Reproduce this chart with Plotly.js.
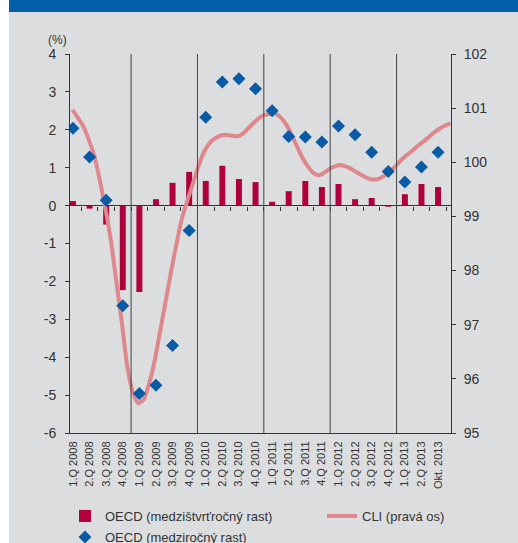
<!DOCTYPE html>
<html>
<head>
<meta charset="utf-8">
<script src="https://cdn.plot.ly/plotly-3.0.1.min.js"></script>
<style>html,body{margin:0;padding:0;background:#fff;}#chart{width:518px;height:543px;}</style>
</head>
<body>
<div id="chart"></div>
<script>
// ---- data ----
var categories = ['1.Q 2008','2.Q 2008','3.Q 2008','4.Q 2008',
  '1.Q 2009','2.Q 2009','3.Q 2009','4.Q 2009',
  '1.Q 2010','2.Q 2010','3.Q 2010','4.Q 2010',
  '1.Q 2011','2.Q 2011','3.Q 2011','4.Q 2011',
  '1.Q 2012','2.Q 2012','3.Q 2012','4.Q 2012',
  '1.Q 2013','2.Q 2013','Okt. 2013'];
// OECD quarter-on-quarter growth (%)
var qoq = [0.12,-0.08,-0.50,-2.23,-2.28,0.17,0.60,0.89,0.65,1.05,0.70,0.62,
           0.10,0.38,0.65,0.49,0.57,0.17,0.20,-0.03,0.30,0.57,0.49];
// OECD year-on-year growth (%)
var yoy = [2.04,1.28,0.14,-2.64,-4.96,-4.74,-3.69,-0.66,2.33,3.26,3.35,3.08,
           2.50,1.82,1.81,1.68,2.10,1.87,1.41,0.90,0.62,1.02,1.41];
// CLI monthly, Jan 2008 - Oct 2013 (right axis)
var cli = [100.97,100.82,100.66,100.41,100.11,99.66,99.15,98.56,97.80,97.05,96.23,95.76,
           95.55,95.62,95.92,96.33,96.88,97.43,97.98,98.50,98.97,99.30,99.62,99.93,
           100.19,100.35,100.44,100.49,100.51,100.49,100.48,100.52,100.62,100.72,100.81,100.87,
           100.89,100.90,100.83,100.70,100.51,100.29,100.08,99.92,99.80,99.76,99.81,99.88,
           99.93,99.95,99.92,99.87,99.81,99.75,99.70,99.68,99.70,99.76,99.84,99.93,
           100.04,100.13,100.21,100.30,100.38,100.46,100.55,100.62,100.68,100.72];
var seriesNames = ['OECD (medzištvrťročný rast)','OECD (medziročný rast)','CLI (pravá os)'];
var leftTicks = [-6,-5,-4,-3,-2,-1,0,1,2,3,4];
var rightTicks = [95,96,97,98,99,100,101,102];

// ---- layout helpers (pixel -> paper) ----
var W = 518, H = 543, mL = 70, mR = 67, mT = 54, mB = 110;
var pw = W - mL - mR, ph = H - mT - mB;
function px(x){ return (x - mL) / pw; }
function py(y){ return (H - mB - y) / ph; }

var monthIdx = cli.map(function(_, i){ return i; });
var xr = [-0.18, categories.length - 0.22];

var traces = [
  {type:'bar', x:categories, y:qoq, name:seriesNames[0], width:0.36,
   marker:{color:'#b0003c'}, xaxis:'x', yaxis:'y', legend:'legend'},
  {type:'scatter', mode:'markers', x:categories, y:yoy, name:seriesNames[1],
   marker:{symbol:'diamond', size:10, color:'#0a5aa5'}, xaxis:'x3', yaxis:'y',
   legend:'legend2'},
  {type:'scatter', mode:'lines', x:monthIdx, y:cli, name:seriesNames[2],
   line:{color:'#de878c', width:4, shape:'spline', smoothing:0.6},
   xaxis:'x2', yaxis:'y2', legend:'legend3'}
];

var shapes = [
  {type:'rect', xref:'paper', yref:'paper', x0:px(-5), x1:px(9), y0:py(H+5), y1:py(-5),
   fillcolor:'#ffffff', line:{width:0}, layer:'above'},
  {type:'rect', xref:'paper', yref:'paper', x0:px(9), x1:px(W+5), y0:py(12), y1:py(-5),
   fillcolor:'#0060aa', line:{width:0}, layer:'above'}
];
for (var k = 4; k < categories.length; k += 4) {
  shapes.push({type:'line', xref:'x', yref:'y', x0:k-0.5, x1:k-0.5, y0:-6, y1:4,
    line:{color:'#444', width:1}, layer:'above'});
}

var fontFam = 'Liberation Sans, Arial, sans-serif';
var legFont = {size:13, color:'#333'};
var layout = {
  width:W, height:H,
  margin:{l:mL, r:mR, t:mT, b:mB, pad:0, autoexpand:false},
  paper_bgcolor:'#dcdddf', plot_bgcolor:'rgba(0,0,0,0)',
  font:{family:fontFam, color:'#333', size:13},
  showlegend:true, barmode:'overlay',
  xaxis:{type:'category', range:xr, ticks:'', tickangle:-90,
    tickfont:{size:11, color:'#333'}, showline:true, linecolor:'#333', linewidth:1,
    showgrid:false, zeroline:false, ticklabelstandoff:3, automargin:false},
  xaxis3:{type:'category', range:xr, overlaying:'x', anchor:'free', position:0.6,
    ticks:'outside', ticklen:4, tickcolor:'#333', tickson:'boundaries',
    showticklabels:false, showline:false, showgrid:false, zeroline:false},
  xaxis2:{type:'linear', range:[-0.456, 69.1], overlaying:'x', anchor:'y2', visible:false},
  yaxis:{range:[-6,4], tickmode:'array', tickvals:leftTicks,
    ticktext:leftTicks.map(function(v){ return String(v); }),
    ticks:'outside', ticklen:4, tickcolor:'#333',
    showline:true, linecolor:'#333', linewidth:1, showgrid:false,
    zeroline:true, zerolinecolor:'#333', zerolinewidth:1,
    tickfont:{size:14, color:'#333'}, ticklabelstandoff:6, automargin:false},
  yaxis2:{range:[95,102], tickmode:'array', tickvals:rightTicks,
    ticktext:rightTicks.map(function(v){ return String(v); }),
    overlaying:'y', side:'right', anchor:'x2',
    ticks:'outside', ticklen:4, tickcolor:'#333', showline:true, linecolor:'#333',
    linewidth:1, showgrid:false, zeroline:false,
    tickfont:{size:14, color:'#333'}, ticklabelstandoff:5, automargin:false},
  legend:{orientation:'h', x:px(65), xanchor:'left', y:py(501), yanchor:'top',
    bgcolor:'rgba(0,0,0,0)', font:legFont},
  legend3:{orientation:'h', x:px(322), xanchor:'left', y:py(501), yanchor:'top',
    bgcolor:'rgba(0,0,0,0)', font:legFont},
  legend2:{orientation:'h', x:px(65), xanchor:'left', y:py(522), yanchor:'top',
    bgcolor:'rgba(0,0,0,0)', font:legFont},
  annotations:[{text:'(%)', xref:'paper', yref:'paper', x:px(57), y:py(40),
    xanchor:'center', yanchor:'middle', showarrow:false, font:{size:12, color:'#333'}}],
  shapes:shapes
};

Plotly.newPlot('chart', traces, layout, {displayModeBar:false, staticPlot:true});
</script>
</body>
</html>
